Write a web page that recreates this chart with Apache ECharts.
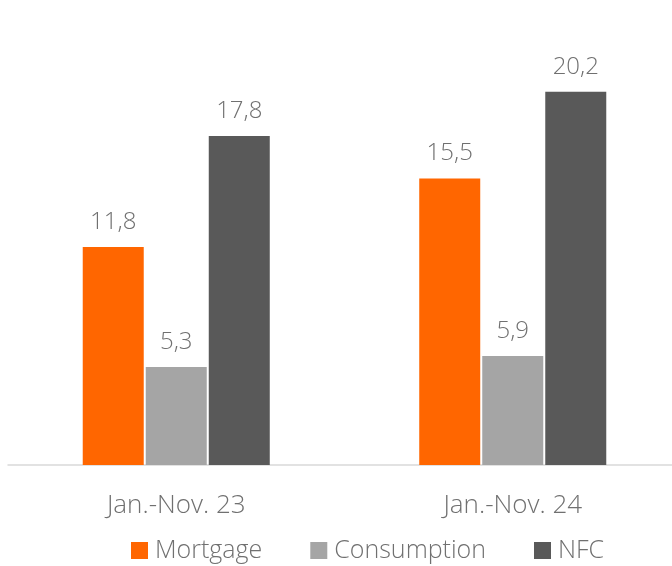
<!DOCTYPE html>
<html>
<head>
<meta charset="utf-8">
<title>Loans</title>
<script src="https://cdn.jsdelivr.net/npm/echarts@6/dist/echarts.min.js"></script>
<style>
  html, body { margin: 0; padding: 0; background: #fff; }
  #chart { width: 672px; height: 566px; }
</style>
</head>
<body>
<div id="chart"></div>
<script>
// data
var categories = ['Jan.-Nov. 23', 'Jan.-Nov. 24'];
var mortgage = [11.8, 15.5];
var consumption = [5.3, 5.9];
var nfc = [17.8, 20.2];

var font = '"Open Sans", "DejaVu Sans", sans-serif';

function fmt(p) {
    return String(p.value).replace('.', ',');
}

function bar(name, data, color) {
    return {
        name: name,
        type: 'bar',
        data: data,
        barWidth: 61,
        barGap: '3.3%',
        itemStyle: { color: color },
        label: {
            show: true,
            position: 'top',
            distance: 13,
            formatter: fmt,
            color: '#707070',
            fontFamily: font,
            fontWeight: 300,
            fontSize: 24
        }
    };
}

var chart = echarts.init(document.getElementById('chart'));
chart.setOption({
    animation: false,
    // the plot runs a bit past the right edge of the picture
    grid: { left: 8, right: -9, top: 30, bottom: 101, outerBoundsMode: 'none', containLabel: false },
    legend: {
        left: 126,
        top: 533,
        itemWidth: 17,
        itemHeight: 17,
        itemGap: 48,
        icon: 'rect',
        textStyle: { color: '#707070', fontFamily: font, fontWeight: 300, fontSize: 25, padding: [0, 0, 0, 2] },
        data: ['Mortgage', 'Consumption', 'NFC']
    },
    xAxis: {
        type: 'category',
        data: categories,
        axisLine: { lineStyle: { color: '#d9d9d9', width: 1.5 } },
        axisTick: { show: false },
        axisLabel: { color: '#707070', fontFamily: font, fontWeight: 300, fontSize: 26, margin: 28 }
    },
    yAxis: {
        type: 'value',
        min: 0,
        max: 23.54,
        show: false,
        splitLine: { show: false }
    },
    series: [
        bar('Mortgage', mortgage, '#ff6600'),
        bar('Consumption', consumption, '#a5a5a5'),
        bar('NFC', nfc, '#595959')
    ]
});
</script>
</body>
</html>
